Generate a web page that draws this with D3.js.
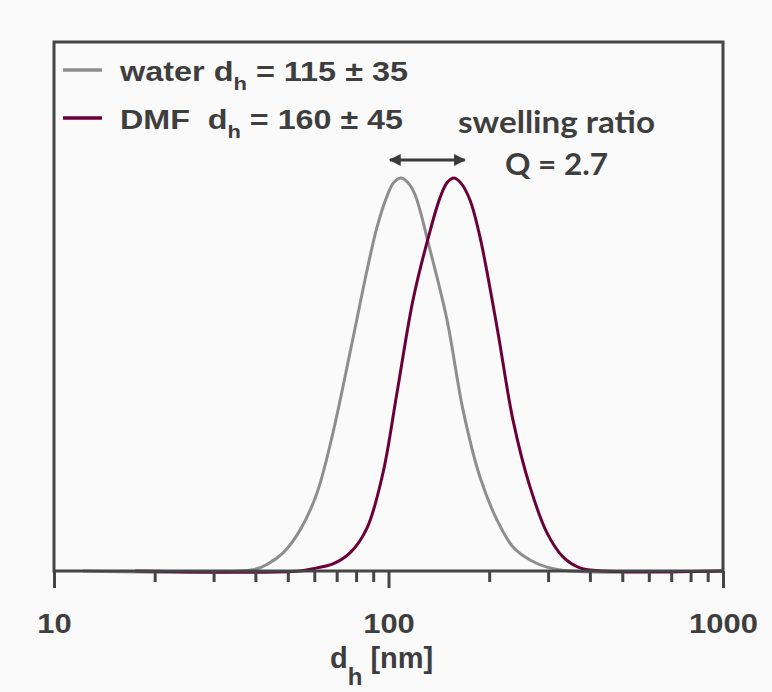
<!DOCTYPE html>
<html>
<head>
<meta charset="utf-8">
<script src="https://cdn.jsdelivr.net/npm/d3@7"></script>
<style>
  html, body { margin: 0; padding: 0; background: #fafafa; }
  svg { display: block; }
  text { white-space: pre; }
</style>
</head>
<body>
<div id="chart"></div>
<script>
// size distribution (d_h in nm, intensity in % of peak)
const waterD = [12.2, 39.4, 43.6, 48.4, 54.4, 61.1, 68.2, 76.7, 86.3, 92.4, 99.0, 103.8, 109.0, 114.4, 120.0, 133.1, 149.6, 167.0, 187.7, 211.0, 235.6, 264.9, 297.8, 348.8, 1000];
const waterI = [0, 0.3, 1.8, 4.6, 10.4, 19.8, 35.1, 55.5, 76.6, 87.5, 95.4, 98.9, 100, 98.8, 95.8, 81.7, 63.9, 41.0, 23.9, 13.0, 6.1, 2.8, 1.0, 0, 0];

const dmfD = [17.5, 54.4, 61.1, 68.2, 76.7, 86.3, 96.3, 106.0, 118.4, 133.1, 142.6, 149.6, 157.0, 164.7, 175.2, 187.7, 211.0, 235.6, 264.9, 297.8, 332.3, 373.7, 443.9, 1000];
const dmfI = [0, 0, 0.8, 1.8, 4.6, 11, 25, 45.3, 69.0, 86.5, 95.0, 98.8, 100, 98.7, 94.4, 85.0, 62.1, 38.4, 21.4, 9.7, 3.6, 0.8, 0, 0];

const majorTicks = [10, 100, 1000];
const minorTicks = [20, 30, 40, 50, 60, 70, 80, 90, 200, 300, 400, 500, 600, 700, 800, 900];

const seriesNames = ["water", "DMF"];
const seriesDh = ["115 \u00b1 35", "160 \u00b1 45"];
const arrowSpan = [101, 169];   // d_h range of the swelling arrow
const arrowLevel = 104.6;       // intensity level of the arrow

const W = 772, H = 692;
const margin = {top: 42, right: 49, bottom: 121, left: 54};
const colors = {water: "#8e8e8e", DMF: "#6b0038"};
const ink = "#3e3e3e";
const sans = "'Liberation Sans', Arial, sans-serif";

const svg = d3.select("#chart").append("svg")
  .attr("width", W).attr("height", H);

svg.append("rect").attr("width", W).attr("height", H).attr("fill", "#fafafa");

const x = d3.scaleLog().domain([10, 1000]).range([margin.left, W - margin.right]);
const y = d3.scaleLinear().domain([0, 100]).range([H - margin.bottom, 178]);

// curves
const line = d3.line()
  .x(d => x(d[0]))
  .y(d => Math.min(y(d[1]), y(0)))
  .curve(d3.curveCatmullRom.alpha(0.5));

const series = [
  {name: "water", pts: d3.zip(waterD, waterI)},
  {name: "DMF", pts: d3.zip(dmfD, dmfI)}
];

svg.selectAll("path.curve")
  .data(series)
  .join("path")
  .attr("class", "curve")
  .attr("d", d => line(d.pts))
  .attr("fill", "none")
  .attr("stroke", d => colors[d.name])
  .attr("stroke-width", 3);

// frame
svg.append("rect")
  .attr("x", margin.left).attr("y", margin.top)
  .attr("width", W - margin.left - margin.right)
  .attr("height", H - margin.top - margin.bottom)
  .attr("fill", "none")
  .attr("stroke", "#454545")
  .attr("stroke-width", 3);

// x axis, major + minor
const axisY = H - margin.bottom;
const gMaj = svg.append("g")
  .attr("transform", `translate(0,${axisY})`)
  .call(d3.axisBottom(x).tickValues(majorTicks).tickFormat(d3.format("d"))
    .tickSizeInner(17).tickSizeOuter(0).tickPadding(25));
const gMin = svg.append("g")
  .attr("transform", `translate(0,${axisY})`)
  .call(d3.axisBottom(x).tickValues(minorTicks).tickFormat("")
    .tickSizeInner(11).tickSizeOuter(0));

[gMaj, gMin].forEach(g => {
  g.select(".domain").remove();
  g.selectAll(".tick line").attr("stroke", "#454545").attr("stroke-width", 3);
});

// the source lettering is a bit wider than Arial, so stretch it
gMaj.selectAll(".tick text")
  .attr("fill", ink)
  .style("font-family", sans)
  .style("font-weight", "bold")
  .style("font-size", "28px")
  .attr("textLength", d => String(d).length * 17.2)
  .attr("lengthAdjust", "spacingAndGlyphs");

// axis title: d_h [nm]
const xt = svg.append("text")
  .attr("x", 330).attr("y", 668)
  .attr("fill", ink)
  .style("font-family", sans)
  .style("font-weight", "bold")
  .style("font-size", "29px");
xt.append("tspan").text("d");
xt.append("tspan").attr("dy", 17).style("font-size", "24px").text("h");
xt.append("tspan").attr("dy", -17).text(" [nm]");

// legend
const leg = svg.append("g");
seriesNames.forEach((name, i) => {
  const yy = 81 + i * 48;
  leg.append("line")
    .attr("x1", 63).attr("x2", 102)
    .attr("y1", yy - 11).attr("y2", yy - 11)
    .attr("stroke", colors[name]).attr("stroke-width", 3.5);
  const t = leg.append("text")
    .attr("x", 120).attr("y", yy)
    .attr("fill", ink)
    .style("font-family", sans)
    .style("font-weight", "bold")
    .style("font-size", "28px");
  t.append("tspan").text(name + (name === "DMF" ? "  d" : " d"));
  t.append("tspan").attr("dy", 9).style("font-size", "19px").text("h");
  t.append("tspan").attr("dy", -9).text(" = " + seriesDh[i]);
  t.attr("textLength", i === 0 ? 288 : 283).attr("lengthAdjust", "spacingAndGlyphs");
});

// swelling arrow
const defs = svg.append("defs");
defs.append("marker")
  .attr("id", "head")
  .attr("viewBox", "0 0 10 10")
  .attr("refX", 9).attr("refY", 5)
  .attr("markerWidth", 4).attr("markerHeight", 4.4)
  .attr("markerUnits", "strokeWidth")
  .attr("orient", "auto-start-reverse")
  .append("path")
  .attr("d", "M0,0 L10,5 L0,10 Z")
  .attr("fill", "#3a3a3a");

svg.append("line")
  .attr("x1", x(arrowSpan[0])).attr("x2", x(arrowSpan[1]))
  .attr("y1", y(arrowLevel)).attr("y2", y(arrowLevel))
  .attr("stroke", "#3a3a3a").attr("stroke-width", 3)
  .attr("marker-start", "url(#head)")
  .attr("marker-end", "url(#head)");

const calib = "Lato, 'Open Sans', sans-serif";
svg.append("text")
  .attr("x", 458).attr("y", 133)
  .attr("fill", ink)
  .style("font-family", calib)
  .style("font-weight", "bold")
  .style("font-size", "30px")
  .attr("textLength", 197)
  .attr("lengthAdjust", "spacingAndGlyphs")
  .text("swelling ratio");
svg.append("text")
  .attr("x", 505).attr("y", 175)
  .attr("fill", ink)
  .style("font-family", calib)
  .style("font-weight", "bold")
  .style("font-size", "30px")
  .attr("textLength", 103)
  .attr("lengthAdjust", "spacingAndGlyphs")
  .text("Q = 2.7");
</script>
</body>
</html>
